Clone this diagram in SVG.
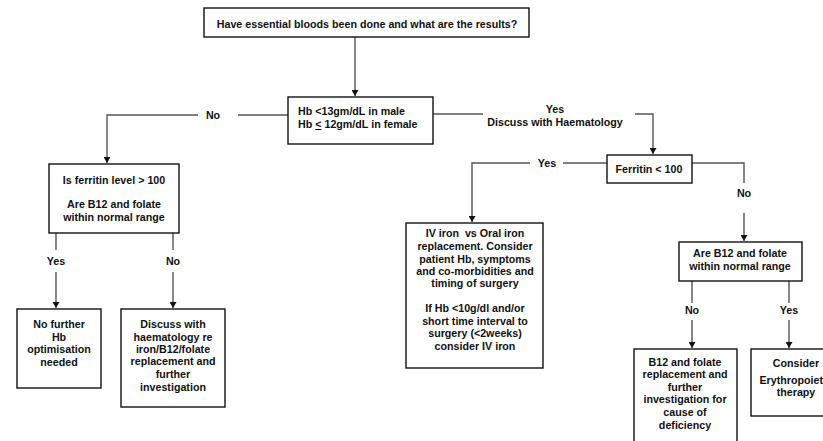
<svg xmlns="http://www.w3.org/2000/svg" width="823" height="441" viewBox="0 0 823 441">
<defs>
<style>
.box{fill:#fff;stroke:#111;stroke-width:1.4}
.t{font-family:"Liberation Sans",Arial,sans-serif;font-size:10.7px;font-weight:bold;fill:#111;text-anchor:middle}
.tl{text-anchor:start}
.c{fill:none;stroke:#555;stroke-width:1.4}
</style>
<marker id="ah" markerWidth="7" markerHeight="7" refX="6" refY="3.5" orient="auto" markerUnits="userSpaceOnUse">
<path d="M0,0 L6,3.5 L0,7 Z" fill="#111"/>
</marker>
</defs>
<rect width="823" height="441" fill="#fff"/>
<g id="connectors">
<path class="c" d="M355,37 V96" marker-end="url(#ah)"/>
<path class="c" d="M288,115 H238"/>
<path class="c" d="M198,115 H107 V163" marker-end="url(#ah)"/>
<path class="c" d="M433,114 H483"/>
<path class="c" d="M635,114 H653 V154" marker-end="url(#ah)"/>
<path class="c" d="M607,163 H563"/>
<path class="c" d="M530,163 H472 V222" marker-end="url(#ah)"/>
<path class="c" d="M692,163 H744 V183"/>
<path class="c" d="M744,213 V241" marker-end="url(#ah)"/>
<path class="c" d="M56,233 V250"/>
<path class="c" d="M56,272 V308" marker-end="url(#ah)"/>
<path class="c" d="M173,233 V250"/>
<path class="c" d="M173,272 V308" marker-end="url(#ah)"/>
<path class="c" d="M692,281 V303"/>
<path class="c" d="M692,320 V348" marker-end="url(#ah)"/>
<path class="c" d="M789,281 V303"/>
<path class="c" d="M789,320 V348" marker-end="url(#ah)"/>
<text class="t" x="213" y="119">No</text>
<text class="t" x="555" y="113">Yes</text>
<text class="t" x="555" y="126">Discuss with Haematology</text>
<text class="t" x="547" y="167">Yes</text>
<text class="t" x="744" y="197">No</text>
<text class="t" x="56" y="265">Yes</text>
<text class="t" x="173" y="265">No</text>
<text class="t" x="692" y="314">No</text>
<text class="t" x="789" y="314">Yes</text>
</g>
<g id="n-start">
<rect class="box" x="204" y="8" width="325" height="29"/>
<text class="t" x="367" y="28">Have essential bloods been done and what are the results?</text>
</g>
<g id="n-hb">
<rect class="box" x="288" y="97" width="145" height="47"/>
<text class="t tl" x="298" y="115">Hb &lt;13gm/dL in male</text>
<text class="t tl" x="298" y="128">Hb <tspan text-decoration="underline">&lt;</tspan> 12gm/dL in female</text>
</g>
<g id="n-ferritin-check">
<rect class="box" x="49" y="164" width="130" height="69"/>
<text class="t" x="114" y="184">Is ferritin level &gt; 100</text>
<text class="t" x="114" y="208">Are B12 and folate</text>
<text class="t" x="114" y="221">within normal range</text>
</g>
<g id="n-no-further">
<rect class="box" x="17" y="309" width="84" height="79"/>
<text class="t" x="59" y="328">No further</text>
<text class="t" x="59" y="341">Hb</text>
<text class="t" x="59" y="353">optimisation</text>
<text class="t" x="59" y="366">needed</text>
</g>
<g id="n-discuss">
<rect class="box" x="121" y="309" width="104" height="98"/>
<text class="t" x="173" y="328">Discuss with</text>
<text class="t" x="173" y="341">haematology re</text>
<text class="t" x="173" y="353">iron/B12/folate</text>
<text class="t" x="173" y="365">replacement and</text>
<text class="t" x="173" y="378">further</text>
<text class="t" x="173" y="391">investigation</text>
</g>
<g id="n-ferritin">
<rect class="box" x="607" y="155" width="85" height="28"/>
<text class="t" x="649" y="173">Ferritin &lt; 100</text>
</g>
<g id="n-iv-iron">
<rect class="box" x="406" y="223" width="137" height="145"/>
<text class="t" x="475" y="237">IV iron&#160; vs Oral iron</text>
<text class="t" x="475" y="250">replacement. Consider</text>
<text class="t" x="475" y="263">patient Hb, symptoms</text>
<text class="t" x="475" y="275">and co-morbidities and</text>
<text class="t" x="475" y="287">timing of surgery</text>
<text class="t" x="475" y="312">If Hb &lt;10g/dl and/or</text>
<text class="t" x="475" y="325">short time interval to</text>
<text class="t" x="475" y="337">surgery (&lt;2weeks)</text>
<text class="t" x="475" y="350">consider IV iron</text>
</g>
<g id="n-b12">
<rect class="box" x="679" y="242" width="123" height="39"/>
<text class="t" x="740" y="257">Are B12 and folate</text>
<text class="t" x="740" y="270">within normal range</text>
</g>
<g id="n-b12-replace">
<rect class="box" x="634" y="349" width="103" height="100"/>
<text class="t" x="685" y="366">B12 and folate</text>
<text class="t" x="685" y="378">replacement and</text>
<text class="t" x="685" y="391">further</text>
<text class="t" x="685" y="403">investigation for</text>
<text class="t" x="685" y="416">cause of</text>
<text class="t" x="685" y="429">deficiency</text>
</g>
<g id="n-epo">
<rect class="box" x="751" y="349" width="90" height="67"/>
<text class="t" x="796" y="367">Consider</text>
<text class="t" x="796" y="384">Erythropoietin</text>
<text class="t" x="796" y="396">therapy</text>
</g>
</svg>
